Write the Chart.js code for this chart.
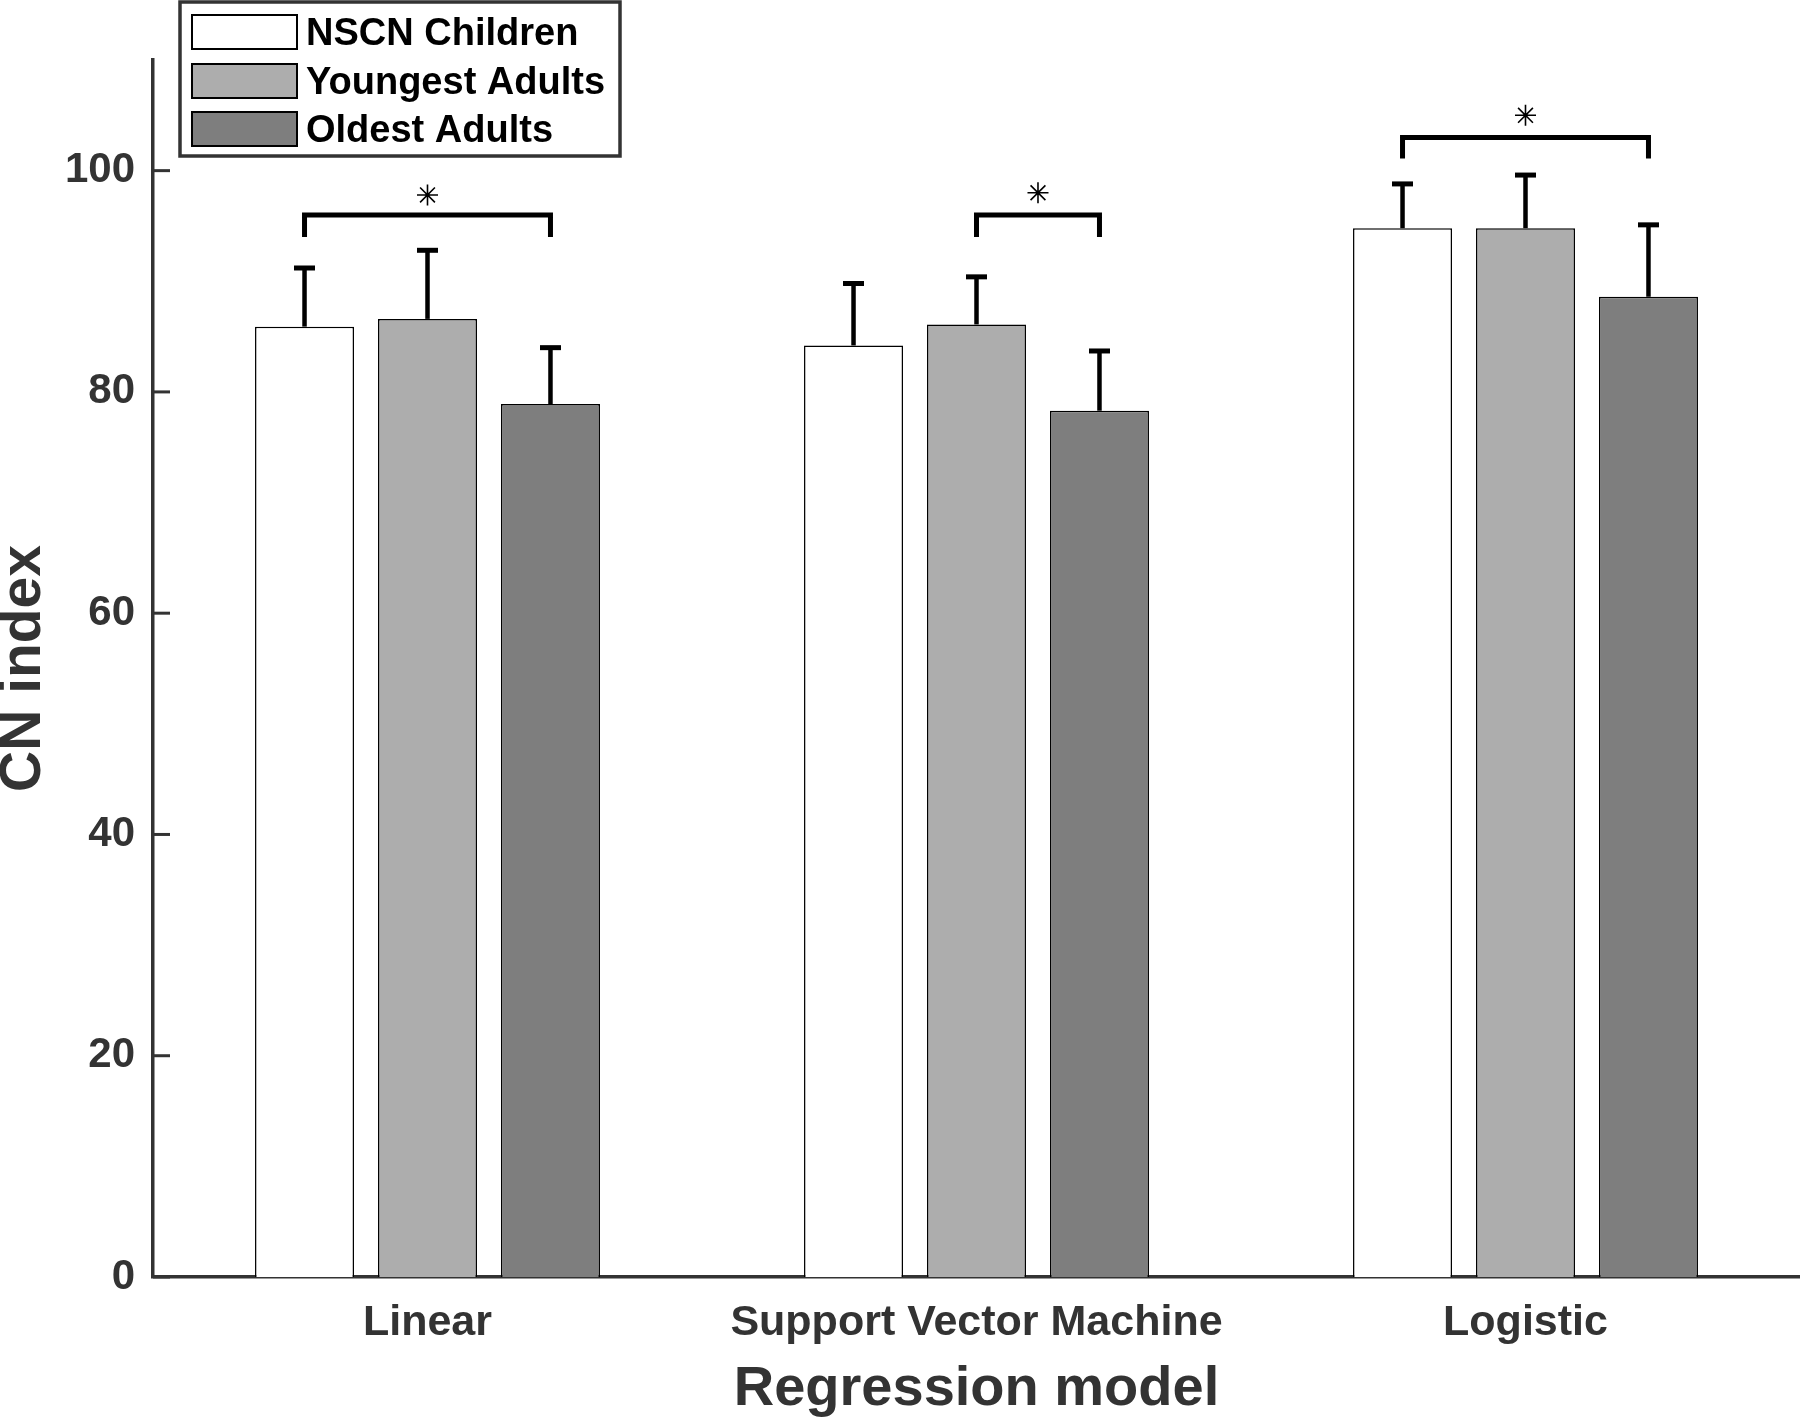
<!DOCTYPE html>
<html>
<head>
<meta charset="utf-8">
<script src="https://cdn.jsdelivr.net/npm/chart.js@4.4.1/dist/chart.umd.min.js"></script>
<style>
    html, body { margin: 0; padding: 0; background: #fff; }
</style>
</head>
<body>
<canvas id="cn-chart" width="1800" height="1418"></canvas>
<script>
// data
var categories = ['Linear', 'Support Vector Machine', 'Logistic'];
var groupNames = ['NSCN Children', 'Youngest Adults', 'Oldest Adults'];
var childrenMean = [85.9, 84.2, 94.8];
var youngMean = [86.6, 86.1, 94.8];
var oldMean = [78.9, 78.3, 88.6];
// upper error (mean + sd) shown only above the bar
var childrenSd = [5.3, 5.6, 4.0];
var youngSd = [6.2, 4.3, 4.8];
var oldSd = [5.1, 5.4, 6.5];
var yTicks = [0, 20, 40, 60, 80, 100];
// significance brackets: which groups are joined in each category
var sigFrom = [0, 1, 0];
var sigTo = [2, 2, 2];
var sigLevel = [96.0, 96.0, 103.0];
var sigLegEnd = [94.0, 94.0, 101.1];
var starLevel = [97.8, 98.0, 105.0];

var fontName = '"Liberation Sans", Arial, Helvetica, sans-serif';
var axisColor = '#333333';
var fills = ['#ffffff', '#adadad', '#7e7e7e'];
var sds = [childrenSd, youngSd, oldSd];

function drawStar(ctx, x, y, r){
    ctx.save();
    ctx.strokeStyle = '#000';
    ctx.lineWidth = 1.6;
    ctx.beginPath();
    for (var k = 0; k < 4; k++) {
        var a = k * Math.PI / 4;
        ctx.moveTo(x - r * Math.sin(a), y - r * Math.cos(a));
        ctx.lineTo(x + r * Math.sin(a), y + r * Math.cos(a));
    }
    ctx.stroke();
    ctx.beginPath();
    ctx.arc(x, y, 2, 0, Math.PI * 2);
    ctx.fillStyle = '#000';
    ctx.fill();
    ctx.restore();
}

var extrasPlugin = {
    id: 'extras',
    afterDatasetsDraw: function(chart){
        var ctx = chart.ctx;
        var yScale = chart.scales.y;
        var area = chart.chartArea;

        // inward y ticks
        ctx.save();
        ctx.strokeStyle = axisColor;
        ctx.lineWidth = 3;
        yTicks.forEach(function(v){
            var py = yScale.getPixelForValue(v);
            ctx.beginPath();
            ctx.moveTo(area.left, py);
            ctx.lineTo(area.left + 17, py);
            ctx.stroke();
        });
        ctx.restore();

        // error bars
        ctx.save();
        ctx.strokeStyle = '#000';
        for (var d = 0; d < chart.data.datasets.length; d++) {
            var meta = chart.getDatasetMeta(d);
            var means = chart.data.datasets[d].data;
            for (var i = 0; i < means.length; i++) {
                var bx = meta.data[i].x;
                var y0 = yScale.getPixelForValue(means[i]);
                var y1 = yScale.getPixelForValue(means[i] + sds[d][i]);
                ctx.lineWidth = 4.5;
                ctx.beginPath();
                ctx.moveTo(bx, y0);
                ctx.lineTo(bx, y1);
                ctx.stroke();
                ctx.lineWidth = 5;
                ctx.beginPath();
                ctx.moveTo(bx - 10.5, y1);
                ctx.lineTo(bx + 10.5, y1);
                ctx.stroke();
            }
        }
        ctx.restore();

        // significance brackets + stars
        ctx.save();
        ctx.strokeStyle = '#000';
        ctx.lineWidth = 5;
        for (var c = 0; c < categories.length; c++) {
            var xa = chart.getDatasetMeta(sigFrom[c]).data[c].x;
            var xb = chart.getDatasetMeta(sigTo[c]).data[c].x;
            var top = yScale.getPixelForValue(sigLevel[c]);
            var leg = yScale.getPixelForValue(sigLegEnd[c]);
            ctx.beginPath();
            ctx.moveTo(xa, leg);
            ctx.lineTo(xa, top);
            ctx.lineTo(xb, top);
            ctx.lineTo(xb, leg);
            ctx.stroke();
            drawStar(ctx, (xa + xb) / 2, yScale.getPixelForValue(starLevel[c]), 10.5);
        }
        ctx.restore();
    },
    afterDraw: function(chart){
        // legend box, top left, overlapping the axes
        var ctx = chart.ctx;
        ctx.save();
        ctx.fillStyle = '#fff';
        ctx.fillRect(180, 2, 440, 154);
        ctx.strokeStyle = axisColor;
        ctx.lineWidth = 3.5;
        ctx.strokeRect(180, 2, 440, 154);
        var rows = [32, 81, 129];
        ctx.font = 'bold 38px ' + fontName;
        ctx.textBaseline = 'middle';
        ctx.textAlign = 'left';
        chart.data.datasets.forEach(function(ds, k){
            ctx.fillStyle = ds.backgroundColor;
            ctx.fillRect(192, rows[k] - 17, 105, 34);
            ctx.strokeStyle = '#000';
            ctx.lineWidth = 2;
            ctx.strokeRect(192, rows[k] - 17, 105, 34);
            ctx.fillStyle = '#000';
            ctx.fillText(ds.label, 306, rows[k] + 3);
        });
        ctx.restore();
    }
};

var ctx = document.getElementById('cn-chart');
var cnChart = new Chart(ctx, {
    type: 'bar',
    data: {
        labels: categories,
        datasets: [
            { label: groupNames[0], data: childrenMean, backgroundColor: fills[0], borderColor: '#000', borderWidth: 1.5 },
            { label: groupNames[1], data: youngMean, backgroundColor: fills[1], borderColor: '#000', borderWidth: 1.5 },
            { label: groupNames[2], data: oldMean, backgroundColor: fills[2], borderColor: '#000', borderWidth: 1.5 }
        ]
    },
    options: {
        responsive: false,
        animation: false,
        devicePixelRatio: 1,
        layout: { padding: { top: 60, right: 0, bottom: 0, left: 0 } },
        datasets: { bar: { categoryPercentage: 0.672, barPercentage: 0.805 } },
        plugins: {
            legend: { display: false },
            tooltip: { enabled: false }
        },
        scales: {
            x: {
                grid: { display: false, drawTicks: false },
                border: { display: true, color: axisColor, width: 3.5 },
                ticks: {
                    color: axisColor,
                    padding: 25,
                    font: { family: fontName, size: 43, weight: 'bold', lineHeight: 1 }
                },
                title: {
                    display: true,
                    text: 'Regression model',
                    color: axisColor,
                    padding: { top: 0, bottom: 0 },
                    font: { family: fontName, size: 56, weight: 'bold', lineHeight: 1 }
                },
                afterFit: function(scale){ scale.height = 141; }
            },
            y: {
                min: 0,
                max: 110,
                grid: { display: false, drawTicks: false },
                border: { display: true, color: axisColor, width: 3.5 },
                ticks: {
                    stepSize: 20,
                    color: axisColor,
                    padding: 18,
                    font: { family: fontName, size: 42, weight: 'bold' }
                },
                afterBuildTicks: function(scale){
                    scale.ticks = scale.ticks.filter(function(t){ return yTicks.indexOf(t.value) >= 0; });
                },
                title: {
                    display: true,
                    text: 'CN index',
                    color: axisColor,
                    padding: 0,
                    font: { family: fontName, size: 57, weight: 'bold', lineHeight: 0.86 }
                },
                afterFit: function(scale){ scale.width = 153; }
            }
        }
    },
    plugins: [extrasPlugin]
});
</script>
</body>
</html>
